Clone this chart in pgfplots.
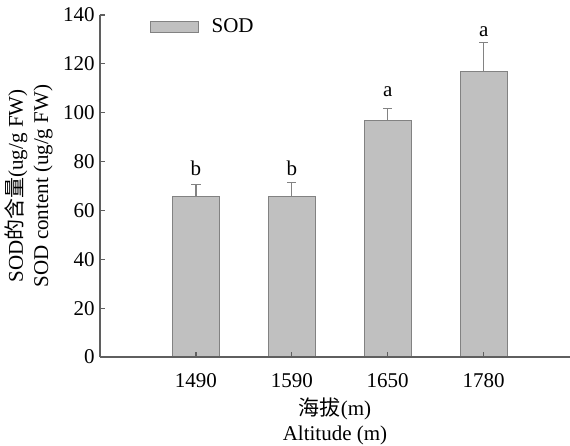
\documentclass[border=0pt]{standalone}
\usepackage{pgfplots}
\pgfplotsset{compat=1.18}
\usepackage{fontspec}
\setmainfont{Liberation Serif}
\newfontfamily\cjk{Noto Sans CJK SC}
\definecolor{barfill}{RGB}{192,192,192}
\definecolor{baredge}{RGB}{130,130,130}
\definecolor{axcol}{RGB}{95,95,95}
\begin{document}
\fontsize{10.5}{12.6}\selectfont
\begin{tikzpicture}
\useasboundingbox (-50pt,-44.5pt) rectangle (235pt,178.5pt);
\begin{axis}[
    at={(0,0)}, anchor=south west,
    scale only axis,
    width=235pt, height=171pt,
    xmin=0, xmax=4.9,
    ymin=0, ymax=140,
    axis x line*=bottom,
    axis y line*=left,
    axis line style={-, draw=axcol, line width=0.75pt},
    tick style={draw=axcol, line width=0.6pt},
    tick align=inside,
    major tick length=2.5pt,
    xtick={1,2,3,4},
    xticklabels={1490,1590,1650,1780},
    ytick={0,20,...,140},
    xticklabel style={yshift=-4.5pt},
    yticklabel style={xshift=1pt},
    /pgf/number format/assume math mode=true,
    ticklabel style={font=\fontsize{10.5}{12.6}\selectfont},
    label style={font=\fontsize{10.5}{12.6}\selectfont},
    ylabel={SOD{\cjk 的含量}(ug/g FW)\\SOD content (ug/g FW)},
    ylabel style={align=center, yshift=-2pt},
    xlabel={{\cjk 海拔}(m)\\Altitude (m)},
    xlabel style={align=center, yshift=2pt},
    axis on top,
    legend style={at={(0.092,1.015)}, anchor=north west, draw=none, fill=none,
        font=\fontsize{10.5}{12.6}\selectfont},
    legend cell align=left,
    legend image code/.code={\draw[fill=barfill, draw=baredge, line width=0.5pt] (0pt,-2.75pt) rectangle (24pt,2.75pt); \path (28.5pt,0pt);},
]
\addplot[ybar, bar width=23.5pt, fill=barfill, draw=baredge, line width=0.5pt,
    error bars/.cd, y dir=plus, y explicit,
    error bar style={draw=baredge, line width=0.6pt},
    error mark options={rotate=90, mark size=2.3pt, draw=baredge, line width=0.6pt}]
coordinates {
(1,65.7) +- (0,5.0)
(2,65.7) +- (0,5.8)
(3,97.0) +- (0,4.8)
(4,116.8) +- (0,12.0)
};
\addlegendentry{SOD}
\node at (axis cs:1,77.4) {b};
\node at (axis cs:2,77.4) {b};
\node at (axis cs:3,108.6) {a};
\node at (axis cs:4,133) {a};
\end{axis}
\end{tikzpicture}
\end{document}
